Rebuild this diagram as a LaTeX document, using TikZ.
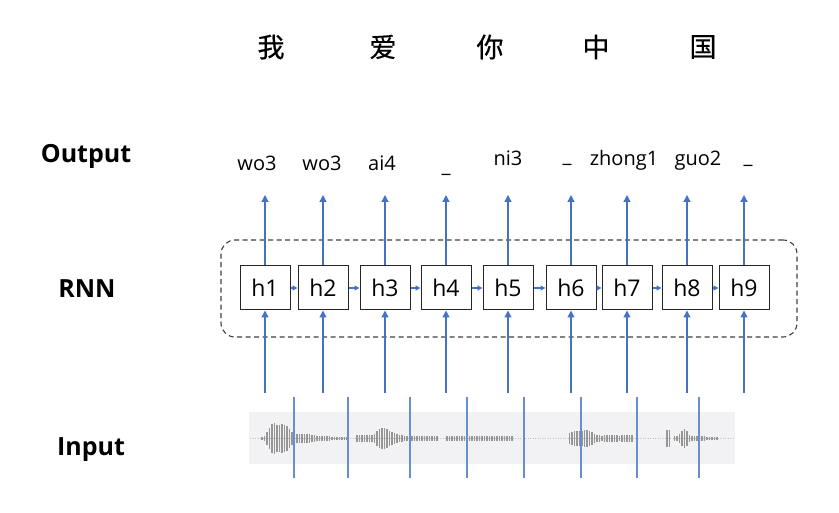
\documentclass[tikz,border=0pt]{standalone}
\usepackage{fontspec}
\setmainfont{Open Sans}
\newfontfamily\cjk[FakeBold=0.6]{Noto Sans CJK SC}
\usetikzlibrary{arrows.meta}
\definecolor{arrblue}{RGB}{68,114,196}
\definecolor{divblue}{RGB}{105,140,212}
\definecolor{wavebg}{RGB}{242,242,245}
\definecolor{wavebar}{RGB}{150,150,150}
\begin{document}
\begin{tikzpicture}[x=1pt,y=-1pt,
  cell/.style={draw=black!85, line width=1pt, minimum width=50pt, minimum height=44pt, inner sep=0pt, font=\fontsize{23}{23}\selectfont, fill=white},
  arr/.style={draw=arrblue, line width=1.3pt, -{Triangle[length=7pt,width=7pt]}},
  rec/.style={draw=arrblue, line width=1.2pt, -{Triangle[length=5pt,width=5pt]}},
  lab/.style={font=\fontsize{20}{20}\selectfont, anchor=base, inner sep=0pt},
  side/.style={font=\bfseries\fontsize{25}{25}\selectfont, anchor=base, inner sep=0pt},
  zh/.style={font=\cjk\fontsize{27}{27}\selectfont, inner sep=0pt},
  divider/.style={draw=divblue, line width=1.4pt},
  group/.style={draw=black!75, line width=1.1pt, dash pattern=on 5pt off 3.5pt, rounded corners=14pt},
  declare function={
    gs(\x,\p,\s)=exp(-(min(abs((\x-\p)/\s),5))^2);
    ind(\x,\a,\b)=and(\x>=\a,\x<=\b);
  }
]
\useasboundingbox (0,0) rectangle (839,513);

% Chinese characters
\node[zh] (c1) at (271,47) {我};
\node[zh] (c2) at (383,47) {爱};
\node[zh] (c3) at (490,47) {你};
\node[zh] (c4) at (596,47) {中};
\node[zh] (c5) at (703,47) {国};

% side labels
\node[side] (lout) at (86,163) {Output};
\node[side] (lrnn) at (87,298) {RNN};
\node[side] (lin) at (91,455) {Input};

% group box
\node[group, minimum width=576pt, minimum height=97pt, inner sep=0pt] (grp) at (509,288.5) {};

% cells
\foreach \i/\x in {1/265,2/323,3/385,4/446,5/508,6/571,7/627,8/687,9/744}{
  \node[cell] (h\i) at (\x,288) {h\i};
  \coordinate (t\i) at (\x,195);
  \coordinate (in\i) at (\x,393);
}
\foreach \i [evaluate=\i as \j using int(\i+1)] in {1,...,8}{
  \draw[rec] (h\i.east) -- (h\j.west);
}
\foreach \i in {1,...,9}{
  \draw[arr] (h\i.north) -- (t\i);
  \draw[arr] (in\i) -- (h\i.south);
}

% output labels
\node[lab] (o1) at (257,171) {wo3};
\node[lab] (o2) at (322,171) {wo3};
\node[lab] (o3) at (382,171) {ai4};
\node[lab] (o4) at (446,173) {\_};
\node[lab] (o5) at (508,166) {ni3};
\node[lab] (o6) at (567,163) {\_};
\node[lab] (o7) at (624,166) {zhong1};
\node[lab] (o8) at (698,166) {guo2};
\node[lab] (o9) at (748,164) {\_};

% waveform
\fill[wavebg] (249,412) rectangle (735,464);
\draw[wavebar!60, line width=0.8pt, dash pattern=on 1pt off 1.5pt] (250,438.5) -- (734,438.5);
\foreach \x in {262,264.5,...,720}{
  \pgfmathsetmacro\a{(ind(\x,262,275)*15.5*gs(\x,275,8)
    + (\x>275)*(\x<=330)*max(15.5*gs(\x,280,13),4.8-2.4*(\x-294)/36)
    + (\x>330)*(\x<=348)*1.5
    + ind(\x,357,366)*3.5
    + ind(\x,366.1,380)*max(9.5*gs(\x,380,7),3.5)
    + (\x>380)*(\x<=437)*max(9.5*gs(\x,382,18),2.5)
    + ind(\x,446,512)*2.3
    + ind(\x,568,583)*(5+4*(\x-568)/15)
    + (\x>583)*(\x<=634)*max(9*gs(\x,583,14),3.3)
    + ind(\x,667,671)*8
    + ind(\x,674,677)*2.5
    + (\x>677)*(\x<=717)*max(8.5*gs(\x,684,6),2.5*(\x<705)+1.5*(\x>=705)))
    *(1+0.1*sin(\x*19))}
  \ifdim\a pt>0.8pt
    \draw[wavebar, line width=1.4pt] (\x,{438.5-\a}) -- (\x,{438.5+\a});
  \fi
}

% dividers
\foreach \j/\x in {1/294,2/348,3/410,4/467,5/524,6/581,7/637,8/699}{
  \coordinate (da\j) at (\x,397);
  \coordinate (db\j) at (\x,478);
  \draw[divider] (da\j) -- (db\j);
}
\end{tikzpicture}
\end{document}
